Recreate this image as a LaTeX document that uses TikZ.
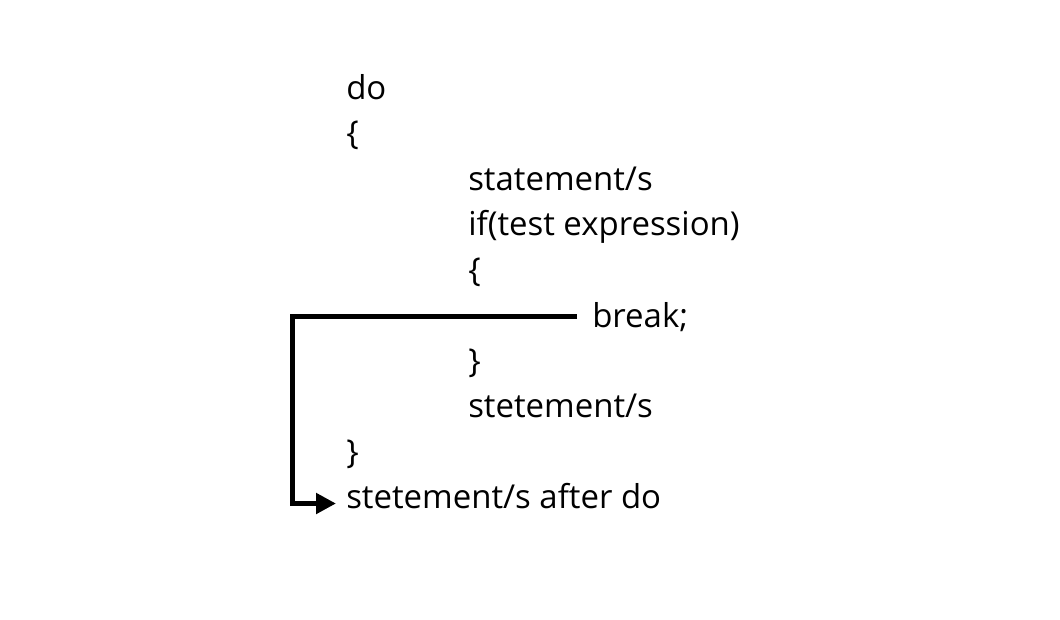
\documentclass[tikz,border=0pt]{standalone}
\usepackage{fontspec}
\setmainfont{Open Sans}
\usetikzlibrary{arrows.meta}
\begin{document}
\begin{tikzpicture}[x=0.75pt,y=-0.75pt,
  code/.style={anchor=base west,inner sep=0pt,font=\fontsize{24.7}{30}\selectfont},
  conn/.style={line width=3.75pt,line join=miter,-{Triangle[length=15pt,width=15pt]}}]
\useasboundingbox (0,0) rectangle (1060,619);
\node[code] (l1) at (346,99) {do};
\node[code] (l2) at (346,144) {\{};
\node[code] (l3) at (468,190) {statement/s};
\node[code] (l4) at (468,235) {if(test expression)};
\node[code] (l5) at (468,281) {\{};
\node[code] (brk) at (592,327) {break;};
\node[code] (l7) at (468,372) {\}};
\node[code] (l8) at (468,417) {stetement/s};
\node[code] (l9) at (346,463) {\}};
\node[code] (after) at (346,508) {stetement/s after do};
\coordinate (brkL) at (577,316.5);
\coordinate (corner) at (292.5,316.5);
\coordinate (tip) at (336,503.5);
\draw[conn] (brkL) -- (corner) |- (tip);
\end{tikzpicture}
\end{document}
